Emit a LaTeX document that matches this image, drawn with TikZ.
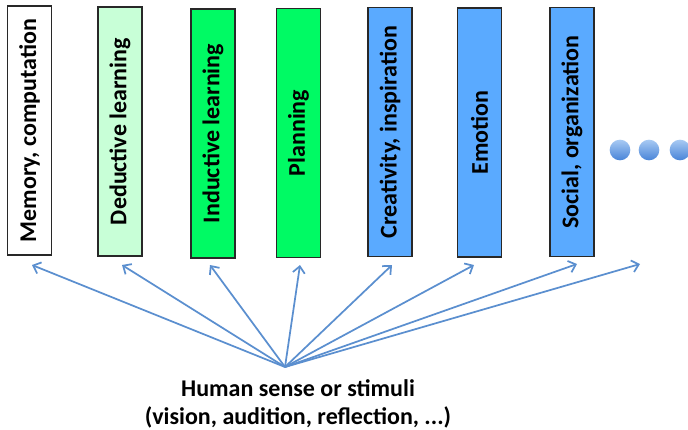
\documentclass[tikz,border=0pt]{standalone}
\usepackage{fontspec}
\setmainfont{Carlito}
\usetikzlibrary{arrows.meta}

\tikzset{every picture/.style={line width=0.75pt}}

\begin{document}
\begin{tikzpicture}[x=0.75pt,y=0.75pt,yscale=-1,xscale=1,
    box/.style={draw={rgb, 255:red, 40; green, 40; blue, 40 },line width=1.1pt,rotate=90,minimum width=187pt,minimum height=33pt,inner sep=0pt,font=\fontsize{18}{20}\selectfont\bfseries},
    dot/.style={circle,minimum size=15.5pt,inner sep=0pt,top color={rgb, 255:red, 168; green, 202; blue, 243 },bottom color={rgb, 255:red, 72; green, 132; blue, 216 }},
    arr/.style={draw={rgb, 255:red, 91; green, 143; blue, 207 },line width=1.3pt,-{Straight Barb[length=5pt,width=9pt]}}]
\useasboundingbox (0,0) rectangle (688,429);
% boxes
\node (mem) [box,fill=white] at (29.5,130.5) {Memory, computation};
\node (ded) [box,fill={rgb, 255:red, 200; green, 255; blue, 215 }] at (120,131.5) {Deductive learning};
\node (ind) [box,fill={rgb, 255:red, 0; green, 250; blue, 100 }] at (213,133.5) {Inductive learning};
\node (plan) [box,fill={rgb, 255:red, 0; green, 250; blue, 100 }] at (298.5,133) {Planning};
\node (crea) [box,fill={rgb, 255:red, 90; green, 170; blue, 255 }] at (390,132) {Creativity, inspiration};
\node (emo) [box,fill={rgb, 255:red, 90; green, 170; blue, 255 }] at (479.5,132.5) {Emotion};
\node (soc) [box,fill={rgb, 255:red, 90; green, 170; blue, 255 }] at (572,132) {Social, organization};
% more
\node (d1) [dot] at (620,150) {};
\node (d2) [dot] at (649,150) {};
\node (d3) [dot] at (680,150) {};
% stimuli
\node (sense) [align=center,inner sep=0pt,font=\fontsize{18}{20.5}\selectfont\bfseries] at (298,404) {Human sense or stimuli\\(vision, audition, reflection, ...)};
\coordinate (src) at (285,367);
\coordinate (tmem) at (32,265);
\coordinate (tded) at (122,265);
\coordinate (tind) at (210,265);
\coordinate (tplan) at (300,265);
\coordinate (tcrea) at (392,265);
\coordinate (temo) at (474,265);
\coordinate (tsoc) at (577,264);
\coordinate (tmore) at (640,264);
\foreach \t in {tmem,tded,tind,tplan,tcrea,temo,tsoc,tmore}
  \draw [arr] (src) -- (\t);
\end{tikzpicture}
\end{document}
